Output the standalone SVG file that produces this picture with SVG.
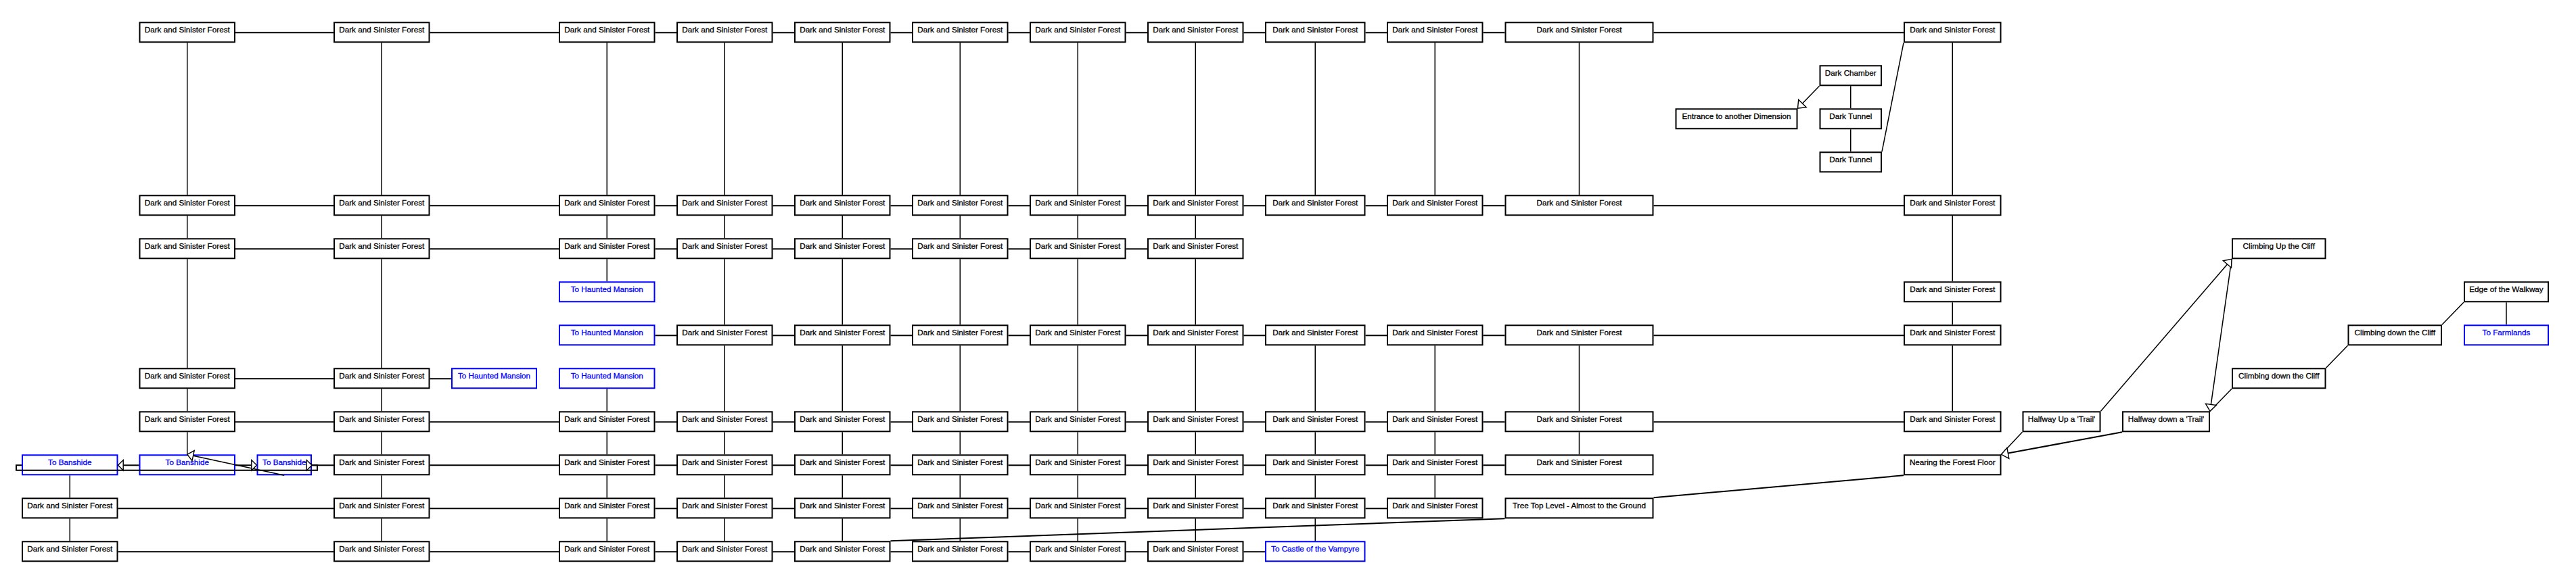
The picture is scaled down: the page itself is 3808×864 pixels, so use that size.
<svg xmlns="http://www.w3.org/2000/svg" width="3808" height="864" viewBox="0 0 3808 864">
<style>
.n rect{fill:#fff;stroke:#000;stroke-width:2}
.b rect{stroke:#0000ff}
.n text{font-family:"Liberation Sans",Arial,sans-serif;font-size:11.7px;text-anchor:middle;fill:#000;stroke:#000;stroke-width:0.3}
.b text{fill:#0000ff;stroke:#0000ff}
#edges path{fill:none;stroke:#000}
#edges .h{stroke-width:2}
#edges .v{stroke-width:1.5}
#edges .d{stroke-width:1.5}
#edges polygon{fill:#fff;stroke:#000;stroke-width:1.4;stroke-linejoin:miter}
</style>
<rect width="3808" height="864" fill="#fff"/>
<g id="nodes">
<g id="r0c1" class="n" transform="translate(205.5,32.3)"><rect x="1" y="1" width="140.5" height="29"/><text x="71.25" y="15.4">Dark and Sinister Forest</text></g>
<g id="r0c3" class="n" transform="translate(493,32.3)"><rect x="1" y="1" width="140.5" height="29"/><text x="71.25" y="15.4">Dark and Sinister Forest</text></g>
<g id="r0c5" class="n" transform="translate(826,32.3)"><rect x="1" y="1" width="140.5" height="29"/><text x="71.25" y="15.4">Dark and Sinister Forest</text></g>
<g id="r0c6" class="n" transform="translate(1000,32.3)"><rect x="1" y="1" width="140.5" height="29"/><text x="71.25" y="15.4">Dark and Sinister Forest</text></g>
<g id="r0c7" class="n" transform="translate(1174,32.3)"><rect x="1" y="1" width="140.5" height="29"/><text x="71.25" y="15.4">Dark and Sinister Forest</text></g>
<g id="r0c8" class="n" transform="translate(1348,32.3)"><rect x="1" y="1" width="140.5" height="29"/><text x="71.25" y="15.4">Dark and Sinister Forest</text></g>
<g id="r0c9" class="n" transform="translate(1522,32.3)"><rect x="1" y="1" width="140.5" height="29"/><text x="71.25" y="15.4">Dark and Sinister Forest</text></g>
<g id="r0c10" class="n" transform="translate(1696,32.3)"><rect x="1" y="1" width="140.5" height="29"/><text x="71.25" y="15.4">Dark and Sinister Forest</text></g>
<g id="r0c11" class="n" transform="translate(1870,32.3)"><rect x="1" y="1" width="146.5" height="29"/><text x="74.25" y="15.4">Dark and Sinister Forest</text></g>
<g id="r0c12" class="n" transform="translate(2050,32.3)"><rect x="1" y="1" width="140.5" height="29"/><text x="71.25" y="15.4">Dark and Sinister Forest</text></g>
<g id="r0c13" class="n" transform="translate(2224.5,32.3)"><rect x="1" y="1" width="218" height="29"/><text x="110" y="15.4">Dark and Sinister Forest</text></g>
<g id="r0c16" class="n" transform="translate(2814,32.3)"><rect x="1" y="1" width="142.5" height="29"/><text x="72.25" y="15.4">Dark and Sinister Forest</text></g>
<g id="darkChamber" class="n" transform="translate(2689.5,96.3)"><rect x="1" y="1" width="90.5" height="29"/><text x="46.25" y="15.4">Dark Chamber</text></g>
<g id="entrance" class="n" transform="translate(2476.5,160.3)"><rect x="1" y="1" width="179" height="29"/><text x="90.5" y="15.4">Entrance to another Dimension</text></g>
<g id="darkTunnel1" class="n" transform="translate(2689.5,160.3)"><rect x="1" y="1" width="90.5" height="29"/><text x="46.25" y="15.4">Dark Tunnel</text></g>
<g id="darkTunnel2" class="n" transform="translate(2689.5,224.3)"><rect x="1" y="1" width="90.5" height="29"/><text x="46.25" y="15.4">Dark Tunnel</text></g>
<g id="r4c1" class="n" transform="translate(205.5,288.3)"><rect x="1" y="1" width="140.5" height="29"/><text x="71.25" y="15.4">Dark and Sinister Forest</text></g>
<g id="r4c3" class="n" transform="translate(493,288.3)"><rect x="1" y="1" width="140.5" height="29"/><text x="71.25" y="15.4">Dark and Sinister Forest</text></g>
<g id="r4c5" class="n" transform="translate(826,288.3)"><rect x="1" y="1" width="140.5" height="29"/><text x="71.25" y="15.4">Dark and Sinister Forest</text></g>
<g id="r4c6" class="n" transform="translate(1000,288.3)"><rect x="1" y="1" width="140.5" height="29"/><text x="71.25" y="15.4">Dark and Sinister Forest</text></g>
<g id="r4c7" class="n" transform="translate(1174,288.3)"><rect x="1" y="1" width="140.5" height="29"/><text x="71.25" y="15.4">Dark and Sinister Forest</text></g>
<g id="r4c8" class="n" transform="translate(1348,288.3)"><rect x="1" y="1" width="140.5" height="29"/><text x="71.25" y="15.4">Dark and Sinister Forest</text></g>
<g id="r4c9" class="n" transform="translate(1522,288.3)"><rect x="1" y="1" width="140.5" height="29"/><text x="71.25" y="15.4">Dark and Sinister Forest</text></g>
<g id="r4c10" class="n" transform="translate(1696,288.3)"><rect x="1" y="1" width="140.5" height="29"/><text x="71.25" y="15.4">Dark and Sinister Forest</text></g>
<g id="r4c11" class="n" transform="translate(1870,288.3)"><rect x="1" y="1" width="146.5" height="29"/><text x="74.25" y="15.4">Dark and Sinister Forest</text></g>
<g id="r4c12" class="n" transform="translate(2050,288.3)"><rect x="1" y="1" width="140.5" height="29"/><text x="71.25" y="15.4">Dark and Sinister Forest</text></g>
<g id="r4c13" class="n" transform="translate(2224.5,288.3)"><rect x="1" y="1" width="218" height="29"/><text x="110" y="15.4">Dark and Sinister Forest</text></g>
<g id="r4c16" class="n" transform="translate(2814,288.3)"><rect x="1" y="1" width="142.5" height="29"/><text x="72.25" y="15.4">Dark and Sinister Forest</text></g>
<g id="r5c1" class="n" transform="translate(205.5,352.3)"><rect x="1" y="1" width="140.5" height="29"/><text x="71.25" y="15.4">Dark and Sinister Forest</text></g>
<g id="r5c3" class="n" transform="translate(493,352.3)"><rect x="1" y="1" width="140.5" height="29"/><text x="71.25" y="15.4">Dark and Sinister Forest</text></g>
<g id="r5c5" class="n" transform="translate(826,352.3)"><rect x="1" y="1" width="140.5" height="29"/><text x="71.25" y="15.4">Dark and Sinister Forest</text></g>
<g id="r5c6" class="n" transform="translate(1000,352.3)"><rect x="1" y="1" width="140.5" height="29"/><text x="71.25" y="15.4">Dark and Sinister Forest</text></g>
<g id="r5c7" class="n" transform="translate(1174,352.3)"><rect x="1" y="1" width="140.5" height="29"/><text x="71.25" y="15.4">Dark and Sinister Forest</text></g>
<g id="r5c8" class="n" transform="translate(1348,352.3)"><rect x="1" y="1" width="140.5" height="29"/><text x="71.25" y="15.4">Dark and Sinister Forest</text></g>
<g id="r5c9" class="n" transform="translate(1522,352.3)"><rect x="1" y="1" width="140.5" height="29"/><text x="71.25" y="15.4">Dark and Sinister Forest</text></g>
<g id="r5c10" class="n" transform="translate(1696,352.3)"><rect x="1" y="1" width="140.5" height="29"/><text x="71.25" y="15.4">Dark and Sinister Forest</text></g>
<g id="climbUp" class="n" transform="translate(3299,352.3)"><rect x="1" y="1" width="137.5" height="29"/><text x="69.75" y="15.4">Climbing Up the Cliff</text></g>
<g id="r6c5" class="n b" transform="translate(826,416.3)"><rect x="1" y="1" width="140.5" height="29"/><text x="71.25" y="15.4">To Haunted Mansion</text></g>
<g id="r6c16" class="n" transform="translate(2814,416.3)"><rect x="1" y="1" width="142.5" height="29"/><text x="72.25" y="15.4">Dark and Sinister Forest</text></g>
<g id="edgeWalkway" class="n" transform="translate(3642,416.3)"><rect x="1" y="1" width="124" height="29"/><text x="63" y="15.4">Edge of the Walkway</text></g>
<g id="r7c5" class="n b" transform="translate(826,480.3)"><rect x="1" y="1" width="140.5" height="29"/><text x="71.25" y="15.4">To Haunted Mansion</text></g>
<g id="r7c6" class="n" transform="translate(1000,480.3)"><rect x="1" y="1" width="140.5" height="29"/><text x="71.25" y="15.4">Dark and Sinister Forest</text></g>
<g id="r7c7" class="n" transform="translate(1174,480.3)"><rect x="1" y="1" width="140.5" height="29"/><text x="71.25" y="15.4">Dark and Sinister Forest</text></g>
<g id="r7c8" class="n" transform="translate(1348,480.3)"><rect x="1" y="1" width="140.5" height="29"/><text x="71.25" y="15.4">Dark and Sinister Forest</text></g>
<g id="r7c9" class="n" transform="translate(1522,480.3)"><rect x="1" y="1" width="140.5" height="29"/><text x="71.25" y="15.4">Dark and Sinister Forest</text></g>
<g id="r7c10" class="n" transform="translate(1696,480.3)"><rect x="1" y="1" width="140.5" height="29"/><text x="71.25" y="15.4">Dark and Sinister Forest</text></g>
<g id="r7c11" class="n" transform="translate(1870,480.3)"><rect x="1" y="1" width="146.5" height="29"/><text x="74.25" y="15.4">Dark and Sinister Forest</text></g>
<g id="r7c12" class="n" transform="translate(2050,480.3)"><rect x="1" y="1" width="140.5" height="29"/><text x="71.25" y="15.4">Dark and Sinister Forest</text></g>
<g id="r7c13" class="n" transform="translate(2224.5,480.3)"><rect x="1" y="1" width="218" height="29"/><text x="110" y="15.4">Dark and Sinister Forest</text></g>
<g id="r7c16" class="n" transform="translate(2814,480.3)"><rect x="1" y="1" width="142.5" height="29"/><text x="72.25" y="15.4">Dark and Sinister Forest</text></g>
<g id="climbDown1" class="n" transform="translate(3470.5,480.3)"><rect x="1" y="1" width="137.5" height="29"/><text x="69.75" y="15.4">Climbing down the Cliff</text></g>
<g id="toFarmlands" class="n b" transform="translate(3642,480.3)"><rect x="1" y="1" width="124" height="29"/><text x="63" y="15.4">To Farmlands</text></g>
<g id="r8c1" class="n" transform="translate(205.5,544.3)"><rect x="1" y="1" width="140.5" height="29"/><text x="71.25" y="15.4">Dark and Sinister Forest</text></g>
<g id="r8c3" class="n" transform="translate(493,544.3)"><rect x="1" y="1" width="140.5" height="29"/><text x="71.25" y="15.4">Dark and Sinister Forest</text></g>
<g id="r8c4" class="n b" transform="translate(667,544.3)"><rect x="1" y="1" width="125" height="29"/><text x="63.5" y="15.4">To Haunted Mansion</text></g>
<g id="r8c5" class="n b" transform="translate(826,544.3)"><rect x="1" y="1" width="140.5" height="29"/><text x="71.25" y="15.4">To Haunted Mansion</text></g>
<g id="climbDown2" class="n" transform="translate(3299,544.3)"><rect x="1" y="1" width="137.5" height="29"/><text x="69.75" y="15.4">Climbing down the Cliff</text></g>
<g id="r9c1" class="n" transform="translate(205.5,608.3)"><rect x="1" y="1" width="140.5" height="29"/><text x="71.25" y="15.4">Dark and Sinister Forest</text></g>
<g id="r9c3" class="n" transform="translate(493,608.3)"><rect x="1" y="1" width="140.5" height="29"/><text x="71.25" y="15.4">Dark and Sinister Forest</text></g>
<g id="r9c5" class="n" transform="translate(826,608.3)"><rect x="1" y="1" width="140.5" height="29"/><text x="71.25" y="15.4">Dark and Sinister Forest</text></g>
<g id="r9c6" class="n" transform="translate(1000,608.3)"><rect x="1" y="1" width="140.5" height="29"/><text x="71.25" y="15.4">Dark and Sinister Forest</text></g>
<g id="r9c7" class="n" transform="translate(1174,608.3)"><rect x="1" y="1" width="140.5" height="29"/><text x="71.25" y="15.4">Dark and Sinister Forest</text></g>
<g id="r9c8" class="n" transform="translate(1348,608.3)"><rect x="1" y="1" width="140.5" height="29"/><text x="71.25" y="15.4">Dark and Sinister Forest</text></g>
<g id="r9c9" class="n" transform="translate(1522,608.3)"><rect x="1" y="1" width="140.5" height="29"/><text x="71.25" y="15.4">Dark and Sinister Forest</text></g>
<g id="r9c10" class="n" transform="translate(1696,608.3)"><rect x="1" y="1" width="140.5" height="29"/><text x="71.25" y="15.4">Dark and Sinister Forest</text></g>
<g id="r9c11" class="n" transform="translate(1870,608.3)"><rect x="1" y="1" width="146.5" height="29"/><text x="74.25" y="15.4">Dark and Sinister Forest</text></g>
<g id="r9c12" class="n" transform="translate(2050,608.3)"><rect x="1" y="1" width="140.5" height="29"/><text x="71.25" y="15.4">Dark and Sinister Forest</text></g>
<g id="r9c13" class="n" transform="translate(2224.5,608.3)"><rect x="1" y="1" width="218" height="29"/><text x="110" y="15.4">Dark and Sinister Forest</text></g>
<g id="r9c16" class="n" transform="translate(2814,608.3)"><rect x="1" y="1" width="142.5" height="29"/><text x="72.25" y="15.4">Dark and Sinister Forest</text></g>
<g id="halfwayUp" class="n" transform="translate(2989.5,608.3)"><rect x="1" y="1" width="114" height="29"/><text x="58" y="15.4">Halfway Up a 'Trail'</text></g>
<g id="halfwayDown" class="n" transform="translate(3137,608.3)"><rect x="1" y="1" width="128" height="29"/><text x="65" y="15.4">Halfway down a 'Trail'</text></g>
<g id="r10c0" class="n b" transform="translate(32,672.3)"><rect x="1" y="1" width="140.5" height="29"/><text x="71.25" y="15.4">To Banshide</text></g>
<g id="r10c1" class="n b" transform="translate(205.5,672.3)"><rect x="1" y="1" width="140.5" height="29"/><text x="71.25" y="15.4">To Banshide</text></g>
<g id="r10c2" class="n b" transform="translate(379.5,672.3)"><rect x="1" y="1" width="79.5" height="29"/><text x="40.75" y="15.4">To Banshide</text></g>
<g id="r10c3" class="n" transform="translate(493,672.3)"><rect x="1" y="1" width="140.5" height="29"/><text x="71.25" y="15.4">Dark and Sinister Forest</text></g>
<g id="r10c5" class="n" transform="translate(826,672.3)"><rect x="1" y="1" width="140.5" height="29"/><text x="71.25" y="15.4">Dark and Sinister Forest</text></g>
<g id="r10c6" class="n" transform="translate(1000,672.3)"><rect x="1" y="1" width="140.5" height="29"/><text x="71.25" y="15.4">Dark and Sinister Forest</text></g>
<g id="r10c7" class="n" transform="translate(1174,672.3)"><rect x="1" y="1" width="140.5" height="29"/><text x="71.25" y="15.4">Dark and Sinister Forest</text></g>
<g id="r10c8" class="n" transform="translate(1348,672.3)"><rect x="1" y="1" width="140.5" height="29"/><text x="71.25" y="15.4">Dark and Sinister Forest</text></g>
<g id="r10c9" class="n" transform="translate(1522,672.3)"><rect x="1" y="1" width="140.5" height="29"/><text x="71.25" y="15.4">Dark and Sinister Forest</text></g>
<g id="r10c10" class="n" transform="translate(1696,672.3)"><rect x="1" y="1" width="140.5" height="29"/><text x="71.25" y="15.4">Dark and Sinister Forest</text></g>
<g id="r10c11" class="n" transform="translate(1870,672.3)"><rect x="1" y="1" width="146.5" height="29"/><text x="74.25" y="15.4">Dark and Sinister Forest</text></g>
<g id="r10c12" class="n" transform="translate(2050,672.3)"><rect x="1" y="1" width="140.5" height="29"/><text x="71.25" y="15.4">Dark and Sinister Forest</text></g>
<g id="r10c13" class="n" transform="translate(2224.5,672.3)"><rect x="1" y="1" width="218" height="29"/><text x="110" y="15.4">Dark and Sinister Forest</text></g>
<g id="nearing" class="n" transform="translate(2814,672.3)"><rect x="1" y="1" width="142.5" height="29"/><text x="72.25" y="15.4">Nearing the Forest Floor</text></g>
<g id="r11c0" class="n" transform="translate(32,736.3)"><rect x="1" y="1" width="140.5" height="29"/><text x="71.25" y="15.4">Dark and Sinister Forest</text></g>
<g id="r11c3" class="n" transform="translate(493,736.3)"><rect x="1" y="1" width="140.5" height="29"/><text x="71.25" y="15.4">Dark and Sinister Forest</text></g>
<g id="r11c5" class="n" transform="translate(826,736.3)"><rect x="1" y="1" width="140.5" height="29"/><text x="71.25" y="15.4">Dark and Sinister Forest</text></g>
<g id="r11c6" class="n" transform="translate(1000,736.3)"><rect x="1" y="1" width="140.5" height="29"/><text x="71.25" y="15.4">Dark and Sinister Forest</text></g>
<g id="r11c7" class="n" transform="translate(1174,736.3)"><rect x="1" y="1" width="140.5" height="29"/><text x="71.25" y="15.4">Dark and Sinister Forest</text></g>
<g id="r11c8" class="n" transform="translate(1348,736.3)"><rect x="1" y="1" width="140.5" height="29"/><text x="71.25" y="15.4">Dark and Sinister Forest</text></g>
<g id="r11c9" class="n" transform="translate(1522,736.3)"><rect x="1" y="1" width="140.5" height="29"/><text x="71.25" y="15.4">Dark and Sinister Forest</text></g>
<g id="r11c10" class="n" transform="translate(1696,736.3)"><rect x="1" y="1" width="140.5" height="29"/><text x="71.25" y="15.4">Dark and Sinister Forest</text></g>
<g id="r11c11" class="n" transform="translate(1870,736.3)"><rect x="1" y="1" width="146.5" height="29"/><text x="74.25" y="15.4">Dark and Sinister Forest</text></g>
<g id="r11c12" class="n" transform="translate(2050,736.3)"><rect x="1" y="1" width="140.5" height="29"/><text x="71.25" y="15.4">Dark and Sinister Forest</text></g>
<g id="treeTop" class="n" transform="translate(2224.5,736.3)"><rect x="1" y="1" width="218" height="29"/><text x="110" y="15.4">Tree Top Level - Almost to the Ground</text></g>
<g id="r12c0" class="n" transform="translate(32,800.3)"><rect x="1" y="1" width="140.5" height="29"/><text x="71.25" y="15.4">Dark and Sinister Forest</text></g>
<g id="r12c3" class="n" transform="translate(493,800.3)"><rect x="1" y="1" width="140.5" height="29"/><text x="71.25" y="15.4">Dark and Sinister Forest</text></g>
<g id="r12c5" class="n" transform="translate(826,800.3)"><rect x="1" y="1" width="140.5" height="29"/><text x="71.25" y="15.4">Dark and Sinister Forest</text></g>
<g id="r12c6" class="n" transform="translate(1000,800.3)"><rect x="1" y="1" width="140.5" height="29"/><text x="71.25" y="15.4">Dark and Sinister Forest</text></g>
<g id="r12c7" class="n" transform="translate(1174,800.3)"><rect x="1" y="1" width="140.5" height="29"/><text x="71.25" y="15.4">Dark and Sinister Forest</text></g>
<g id="r12c8" class="n" transform="translate(1348,800.3)"><rect x="1" y="1" width="140.5" height="29"/><text x="71.25" y="15.4">Dark and Sinister Forest</text></g>
<g id="r12c9" class="n" transform="translate(1522,800.3)"><rect x="1" y="1" width="140.5" height="29"/><text x="71.25" y="15.4">Dark and Sinister Forest</text></g>
<g id="r12c10" class="n" transform="translate(1696,800.3)"><rect x="1" y="1" width="140.5" height="29"/><text x="71.25" y="15.4">Dark and Sinister Forest</text></g>
<g id="toCastle" class="n b" transform="translate(1870,800.3)"><rect x="1" y="1" width="146.5" height="29"/><text x="74.25" y="15.4">To Castle of the Vampyre</text></g>
</g>
<g id="edges">
<path class="h" d="M348 48.3H493"/><path class="h" d="M635.5 48.3H826"/><path class="h" d="M968.5 48.3H1000"/><path class="h" d="M1142.5 48.3H1174"/><path class="h" d="M1316.5 48.3H1348"/><path class="h" d="M1490.5 48.3H1522"/><path class="h" d="M1664.5 48.3H1696"/><path class="h" d="M1838.5 48.3H1870"/><path class="h" d="M2018.5 48.3H2050"/><path class="h" d="M2192.5 48.3H2224.5"/><path class="h" d="M2444.5 48.3H2814"/>
<path class="h" d="M348 304.3H493"/><path class="h" d="M635.5 304.3H826"/><path class="h" d="M968.5 304.3H1000"/><path class="h" d="M1142.5 304.3H1174"/><path class="h" d="M1316.5 304.3H1348"/><path class="h" d="M1490.5 304.3H1522"/><path class="h" d="M1664.5 304.3H1696"/><path class="h" d="M1838.5 304.3H1870"/><path class="h" d="M2018.5 304.3H2050"/><path class="h" d="M2192.5 304.3H2224.5"/><path class="h" d="M2444.5 304.3H2814"/>
<path class="h" d="M348 368.3H493"/><path class="h" d="M635.5 368.3H826"/><path class="h" d="M968.5 368.3H1000"/><path class="h" d="M1142.5 368.3H1174"/><path class="h" d="M1316.5 368.3H1348"/><path class="h" d="M1490.5 368.3H1522"/><path class="h" d="M1664.5 368.3H1696"/>
<path class="h" d="M968.5 496.3H1000"/><path class="h" d="M1142.5 496.3H1174"/><path class="h" d="M1316.5 496.3H1348"/><path class="h" d="M1490.5 496.3H1522"/><path class="h" d="M1664.5 496.3H1696"/><path class="h" d="M1838.5 496.3H1870"/><path class="h" d="M2018.5 496.3H2050"/><path class="h" d="M2192.5 496.3H2224.5"/><path class="h" d="M2444.5 496.3H2814"/>
<path class="h" d="M348 560.3H493"/><path class="h" d="M635.5 560.3H667"/>
<path class="h" d="M348 624.3H493"/><path class="h" d="M635.5 624.3H826"/><path class="h" d="M968.5 624.3H1000"/><path class="h" d="M1142.5 624.3H1174"/><path class="h" d="M1316.5 624.3H1348"/><path class="h" d="M1490.5 624.3H1522"/><path class="h" d="M1664.5 624.3H1696"/><path class="h" d="M1838.5 624.3H1870"/><path class="h" d="M2018.5 624.3H2050"/><path class="h" d="M2192.5 624.3H2224.5"/><path class="h" d="M2444.5 624.3H2814"/>
<path class="h" d="M635.5 688.3H826"/><path class="h" d="M968.5 688.3H1000"/><path class="h" d="M1142.5 688.3H1174"/><path class="h" d="M1316.5 688.3H1348"/><path class="h" d="M1490.5 688.3H1522"/><path class="h" d="M1664.5 688.3H1696"/><path class="h" d="M1838.5 688.3H1870"/><path class="h" d="M2018.5 688.3H2050"/><path class="h" d="M2192.5 688.3H2224.5"/>
<path class="h" d="M174.5 752.3H493"/><path class="h" d="M635.5 752.3H826"/><path class="h" d="M968.5 752.3H1000"/><path class="h" d="M1142.5 752.3H1174"/><path class="h" d="M1316.5 752.3H1348"/><path class="h" d="M1490.5 752.3H1522"/><path class="h" d="M1664.5 752.3H1696"/><path class="h" d="M1838.5 752.3H1870"/><path class="h" d="M2018.5 752.3H2050"/>
<path class="h" d="M174.5 816.3H493"/><path class="h" d="M635.5 816.3H826"/><path class="h" d="M968.5 816.3H1000"/><path class="h" d="M1142.5 816.3H1174"/><path class="h" d="M1316.5 816.3H1348"/><path class="h" d="M1490.5 816.3H1522"/><path class="h" d="M1664.5 816.3H1696"/><path class="h" d="M1838.5 816.3H1870"/>
<path class="v" d="M103.25 703.3V736.3"/><path class="v" d="M103.25 767.3V800.3"/>
<path class="v" d="M276.75 63.3V288.3"/><path class="v" d="M276.75 319.3V352.3"/><path class="v" d="M276.75 383.3V544.3"/><path class="v" d="M276.75 575.3V608.3"/><path class="v" d="M276.75 639.3V672.3"/>
<path class="v" d="M564.25 63.3V288.3"/><path class="v" d="M564.25 319.3V352.3"/><path class="v" d="M564.25 383.3V544.3"/><path class="v" d="M564.25 575.3V608.3"/><path class="v" d="M564.25 639.3V672.3"/><path class="v" d="M564.25 703.3V736.3"/><path class="v" d="M564.25 767.3V800.3"/>
<path class="v" d="M897.25 63.3V288.3"/><path class="v" d="M897.25 319.3V352.3"/><path class="v" d="M897.25 383.3V416.3"/><path class="v" d="M897.25 575.3V608.3"/><path class="v" d="M897.25 639.3V672.3"/><path class="v" d="M897.25 703.3V736.3"/><path class="v" d="M897.25 767.3V800.3"/>
<path class="v" d="M1071.25 63.3V288.3"/><path class="v" d="M1071.25 319.3V352.3"/><path class="v" d="M1071.25 383.3V480.3"/><path class="v" d="M1071.25 511.3V608.3"/><path class="v" d="M1071.25 639.3V672.3"/><path class="v" d="M1071.25 703.3V736.3"/><path class="v" d="M1071.25 767.3V800.3"/>
<path class="v" d="M1245.25 63.3V288.3"/><path class="v" d="M1245.25 319.3V352.3"/><path class="v" d="M1245.25 383.3V480.3"/><path class="v" d="M1245.25 511.3V608.3"/><path class="v" d="M1245.25 639.3V672.3"/><path class="v" d="M1245.25 703.3V736.3"/><path class="v" d="M1245.25 767.3V800.3"/>
<path class="v" d="M1419.25 63.3V288.3"/><path class="v" d="M1419.25 319.3V352.3"/><path class="v" d="M1419.25 383.3V480.3"/><path class="v" d="M1419.25 511.3V608.3"/><path class="v" d="M1419.25 639.3V672.3"/><path class="v" d="M1419.25 703.3V736.3"/><path class="v" d="M1419.25 767.3V800.3"/>
<path class="v" d="M1593.25 63.3V288.3"/><path class="v" d="M1593.25 319.3V352.3"/><path class="v" d="M1593.25 383.3V480.3"/><path class="v" d="M1593.25 511.3V608.3"/><path class="v" d="M1593.25 639.3V672.3"/><path class="v" d="M1593.25 703.3V736.3"/><path class="v" d="M1593.25 767.3V800.3"/>
<path class="v" d="M1767.25 63.3V288.3"/><path class="v" d="M1767.25 319.3V352.3"/><path class="v" d="M1767.25 383.3V480.3"/><path class="v" d="M1767.25 511.3V608.3"/><path class="v" d="M1767.25 639.3V672.3"/><path class="v" d="M1767.25 703.3V736.3"/><path class="v" d="M1767.25 767.3V800.3"/>
<path class="v" d="M1944.25 63.3V288.3"/><path class="v" d="M1944.25 511.3V608.3"/><path class="v" d="M1944.25 639.3V672.3"/><path class="v" d="M1944.25 703.3V736.3"/><path class="v" d="M1944.25 767.3V800.3"/>
<path class="v" d="M2121.25 63.3V288.3"/><path class="v" d="M2121.25 511.3V608.3"/><path class="v" d="M2121.25 639.3V672.3"/><path class="v" d="M2121.25 703.3V736.3"/>
<path class="v" d="M2334.5 63.3V288.3"/><path class="v" d="M2334.5 511.3V608.3"/><path class="v" d="M2334.5 639.3V672.3"/>
<path class="v" d="M2735.75 127.3V160.3"/><path class="v" d="M2735.75 191.3V224.3"/>
<path class="v" d="M2886.25 63.3V288.3"/><path class="v" d="M2886.25 319.3V416.3"/><path class="v" d="M2886.25 447.3V480.3"/><path class="v" d="M2886.25 511.3V608.3"/>
<path class="v" d="M3705 447.3V480.3"/>
<path class="d" d="M2814 63.3L2782 224.3"/>
<path class="d" d="M2689.5 127.3L2664.5 153.1"/>
<polygon points="2657.5,160.3 2658.7,147.6 2670.2,158.7"/>
<path class="d" d="M3642 447.3L3610 480.3"/>
<path class="d" d="M3470.5 511.3L3438.5 544.3"/>
<path class="d" d="M3299 575.3L3267 608.3"/>
<path class="d" d="M3299 383.3L3268.4 598.4"/>
<polygon points="3267,608.3 3260.5,597.3 3276.3,599.5"/>
<path class="d" d="M3105.5 608.3L3292.5 390.9"/>
<polygon points="3299,383.3 3298.5,396.1 3286.4,385.7"/>
<path class="d" d="M2989.5 639.3L2958.5 672.3"/>
<path class="h" d="M3137 639.3L2968.3 670.5"/>
<polygon points="2958.5,672.3 2966.9,662.6 2969.8,678.4"/>
<path class="h" d="M2814 703.3L2444.5 736.3"/>
<path class="h" d="M2224.5 767.3L1316.5 800.3"/>
<path class="d" d="M420.25 703.3L285.6 674.2"/>
<polygon points="276.75,672.3 287.2,666.7 284,681.7"/>
<path class="h" d="M205.5 688.3H181.7"/>
<polygon points="174.5,688.3 182.2,680.6 182.2,696"/>
<path class="h" d="M348 688.3H371.8"/>
<polygon points="379.5,688.3 371.8,680.6 371.8,696"/>
<path class="h" d="M493 688.3H461"/>
<polygon points="461,688.3 453.3,680.6 453.3,696"/>
<path class="h" d="M32 688.3H24V695.7H469V688.3H461"/>
</g>
</svg>
